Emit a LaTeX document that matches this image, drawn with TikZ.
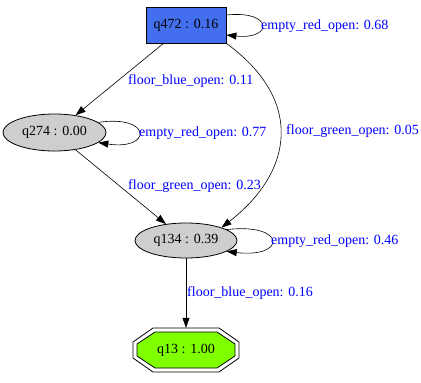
\documentclass[tikz,border=0pt]{standalone}
\usepackage{fontspec}
\setmainfont{Liberation Serif}
\usepackage{xcolor}
\usetikzlibrary{shapes, arrows.meta, positioning}

\definecolor{startblue}{RGB}{67,110,238}
\definecolor{stategray}{RGB}{206,206,206}
\definecolor{goalgreen}{RGB}{127,255,0}
\definecolor{lblblue}{RGB}{0,0,255}

\begin{document}
\begin{tikzpicture}[
        x=1pt, y=-1pt,
        font=\fontsize{14}{16}\selectfont,
        state/.style={ellipse, draw, fill=stategray, line width=0.8pt, inner sep=0pt},
        start/.style={rectangle, draw, fill=startblue, line width=0.8pt, minimum width=80pt, minimum height=36pt},
        goal/.style={rectangle, inner sep=0pt, minimum width=106pt, minimum height=44pt},
        trans/.style={-{Triangle[length=10pt, width=7pt]}, line width=0.6pt},
        lbl/.style={anchor=west, inner sep=0pt, text=lblblue}
        ]
        \useasboundingbox (0,0) rectangle (421,383);

        % States
        \node[start] (q472) at (186,25) {q472 : 0.16};
        \node[state, minimum width=103pt, minimum height=37pt] (q274) at (54.5,132.5) {q274 : 0.00};
        \node[state, minimum width=102pt, minimum height=35pt] (q134) at (186,240.5) {q134 : 0.39};

        % Final state (double octagon)
        \begin{scope}[shift={(186,350)}]
            \draw[line width=0.8pt] (-53,-8) -- (-33,-22) -- (33,-22) -- (53,-8)
                -- (53,8) -- (33,22) -- (-33,22) -- (-53,8) -- cycle;
            \draw[line width=0.8pt, fill=goalgreen] (-49,-6) -- (-31,-18) -- (31,-18) -- (49,-6)
                -- (49,6) -- (31,18) -- (-31,18) -- (-49,6) -- cycle;
        \end{scope}
        \node[goal] (q13) at (186,350) {q13 : 1.00};

        % Transitions
        \draw[trans] (q472) -- (q274);
        \draw[trans] (q472.south east) .. controls +(78,57) and +(72,-56) .. (q134.20);
        \draw[trans] (q274) -- (q134);
        \draw[trans] (q134) -- (q13);

        % Self loops
        \draw[trans] ([yshift=10pt]q472.east) .. controls +(47,-5) and +(47,5) .. ([yshift=-10pt]q472.east);
        \draw[trans] (q274.13) .. controls +(54,-8) and +(54,8) .. (q274.-13);
        \draw[trans] (q134.15) .. controls +(60,-7) and +(60,7) .. (q134.-15);

        % Transition labels
        \node[lbl] (l1) at (261,26) {empty\_red\_open: 0.68};
        \node[lbl] (l2) at (128,81) {floor\_blue\_open: 0.11};
        \node[lbl] (l3) at (139,133) {empty\_red\_open: 0.77};
        \node[lbl] (l4) at (286,131) {floor\_green\_open: 0.05};
        \node[lbl] (l5) at (128,186) {floor\_green\_open: 0.23};
        \node[lbl] (l6) at (271,241) {empty\_red\_open: 0.46};
        \node[lbl] (l7) at (187,293) {floor\_blue\_open: 0.16};

\end{tikzpicture}
\end{document}
